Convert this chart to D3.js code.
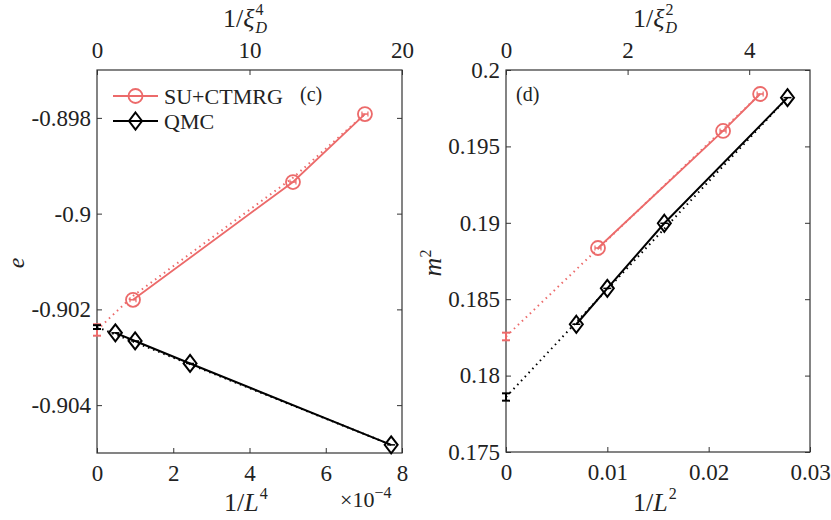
<!DOCTYPE html>
<html>
<head>
<meta charset="utf-8">
<script src="https://cdn.jsdelivr.net/npm/d3@7"></script>
<style>
  body { margin: 0; background: #fff; }
  svg, svg text { font-family: "Liberation Serif", "Times New Roman", serif; }
  text { fill: #222; }
</style>
</head>
<body>
<svg width="831" height="520"></svg>
<script>
// ---- panel (c): energy ----
const suXiInv4 = [2.36, 12.85, 17.57];          // 1/xi_D^4 (top axis)
const suE = [-0.9018, -0.89934, -0.89792];
const suE0 = -0.90243, suE0Err = 0.00012;
const suFitX4 = [0, 2.36, 12.85, 17.57];
const suFitE = [-0.90243, -0.90172, -0.89925, -0.89792];

const qmcInvL4 = [0.482, 1.0, 2.441, 7.716];    // 1/L^4 in units of 1e-4
const qmcE = [-0.90249, -0.90266, -0.90313, -0.90483];
const qmcE0 = -0.90237, qmcE0Err = 0.00004;
const qmcFitX4 = [0, 7.716];
const qmcFitE = [-0.90237, -0.90483];

// ---- panel (d): staggered magnetisation ----
const suXiInv2 = [1.513, 3.57, 4.18];
const suM2 = [0.18835, 0.19601, 0.19843];
const suM0 = 0.18256, suM0Err = 0.00025;
const suFitX2 = [0, 4.18];
const suFitM = [0.18256, 0.19843];

const qmcInvL2 = [0.00694, 0.01, 0.015625, 0.02778];
const qmcM2 = [0.18336, 0.18571, 0.18997, 0.19819];
const qmcM0 = 0.1786, qmcM0Err = 0.00024;
const qmcFitX2 = [0, 0.02778];
const qmcFitM = [0.1786, 0.19819];

const cTop = [0, 10, 20], cBottom = [0, 2, 4, 6, 8], cLeft = [-0.904, -0.902, -0.9, -0.898];
const dTop = [0, 2, 4], dBottom = [0, 0.01, 0.02, 0.03], dLeft = [0.175, 0.18, 0.185, 0.19, 0.195, 0.2];

const red = "#ec6a6a", black = "#000";
const svg = d3.select("svg");
const fs = 23;
const serif = '"Liberation Serif", serif';

function diamond(g, x, y, color) {
  g.append("path").attr("d", `M${x},${y-8.5}L${x+6.5},${y}L${x},${y+8.5}L${x-6.5},${y}Z`)
    .attr("fill", "none").attr("stroke", color).attr("stroke-width", 2);
}
function circle(g, x, y, color) {
  g.append("circle").attr("cx", x).attr("cy", y).attr("r", 7)
    .attr("fill", "none").attr("stroke", color).attr("stroke-width", 1.8);
}
function errBar(g, x, y1, y2, color, w) {
  g.append("line").attr("x1", x).attr("x2", x).attr("y1", y1).attr("y2", y2).attr("stroke", color).attr("stroke-width", w);
  [y1, y2].forEach(yy => g.append("line").attr("x1", x - 4).attr("x2", x + 4).attr("y1", yy).attr("y2", yy).attr("stroke", color).attr("stroke-width", w));
}

function panel(o) {
  const g = svg.append("g");
  const x = d3.scaleLinear().domain(o.xDom).range([o.left, o.right]);
  const xt = d3.scaleLinear().domain(o.xtDom).range([o.left, o.right]);
  const y = d3.scaleLinear().domain(o.yDom).range([o.bottom, o.top]);

  g.append("rect").attr("x", o.left).attr("y", o.top).attr("width", o.right - o.left).attr("height", o.bottom - o.top)
    .attr("fill", "none").attr("stroke", "#333").attr("stroke-width", 1.2);

  const styleAxis = sel => {
    sel.attr("font-family", serif).attr("font-size", fs);
    sel.select(".domain").remove();
    sel.selectAll(".tick line").attr("stroke", "#333");
    sel.selectAll(".tick text").attr("fill", "#222");
  };
  const fmt = d => String(d);
  g.append("g").attr("transform", `translate(0,${o.bottom})`)
    .call(d3.axisBottom(x).tickValues(o.bottomTicks).tickSizeInner(-5).tickPadding(12).tickFormat(fmt))
    .call(styleAxis);
  g.append("g").attr("transform", `translate(0,${o.top})`)
    .call(d3.axisTop(xt).tickValues(o.topTicks).tickSizeInner(-5).tickPadding(12).tickFormat(fmt))
    .call(styleAxis);
  g.append("g").attr("transform", `translate(${o.left},0)`)
    .call(d3.axisLeft(y).tickValues(o.leftTicks).tickSizeInner(-5).tickPadding(6).tickFormat(fmt))
    .call(styleAxis);
  g.append("g").attr("transform", `translate(${o.right},0)`)
    .call(d3.axisRight(y).tickValues(o.leftTicks).tickSizeInner(-5).tickFormat(""))
    .call(styleAxis);

  const line = d3.line();
  // fits (dotted)
  g.append("path").attr("d", line(o.suFitX.map((v, i) => [xt(v), y(o.suFitY[i])])))
    .attr("fill", "none").attr("stroke", red).attr("stroke-width", 2).attr("stroke-dasharray", "1.5,4");
  g.append("path").attr("d", line(o.qmcFitX.map((v, i) => [x(v), y(o.qmcFitY[i])])))
    .attr("fill", "none").attr("stroke", black).attr("stroke-width", 2).attr("stroke-dasharray", "1.5,4");
  // data lines
  g.append("path").attr("d", line(o.suX.map((v, i) => [xt(v), y(o.suY[i])])))
    .attr("fill", "none").attr("stroke", red).attr("stroke-width", 1.8);
  g.append("path").attr("d", line(o.qmcX.map((v, i) => [x(v), y(o.qmcY[i])])))
    .attr("fill", "none").attr("stroke", black).attr("stroke-width", 2);
  // extrapolated values at zero
  errBar(g, x(0), y(o.su0 + o.su0Err), y(o.su0 - o.su0Err), red, 2);
  errBar(g, x(0), y(o.qmc0 + o.qmc0Err), y(o.qmc0 - o.qmc0Err), black, 2);
  // markers
  o.suX.forEach((v, i) => {
    const px = xt(v), py = y(o.suY[i]);
    circle(g, px, py, red);
    g.append("line").attr("x1", px - 3).attr("x2", px + 3).attr("y1", py).attr("y2", py).attr("stroke", red).attr("stroke-width", 1.5);
    [-3, 3].forEach(dx => g.append("line").attr("x1", px + dx).attr("x2", px + dx).attr("y1", py - 2.5).attr("y2", py + 2.5).attr("stroke", red).attr("stroke-width", 1.2));
  });
  o.qmcX.forEach((v, i) => {
    const px = x(v), py = y(o.qmcY[i]);
    diamond(g, px, py, black);
    g.append("line").attr("x1", px - 4).attr("x2", px + 4).attr("y1", py).attr("y2", py).attr("stroke", black).attr("stroke-width", 1.5);
  });
  return g;
}

panel({
  left: 97, right: 402, top: 70, bottom: 453,
  xDom: [0, 8], xtDom: [0, 20], yDom: [-0.905, -0.897],
  bottomTicks: cBottom, topTicks: cTop, leftTicks: cLeft,
  suX: suXiInv4, suY: suE, suFitX: suFitX4, suFitY: suFitE, su0: suE0, su0Err: suE0Err,
  qmcX: qmcInvL4, qmcY: qmcE, qmcFitX: qmcFitX4, qmcFitY: qmcFitE, qmc0: qmcE0, qmc0Err: qmcE0Err
});

panel({
  left: 506, right: 810, top: 70, bottom: 452,
  xDom: [0, 0.03], xtDom: [0, 5], yDom: [0.175, 0.2],
  bottomTicks: dBottom, topTicks: dTop, leftTicks: dLeft,
  suX: suXiInv2, suY: suM2, suFitX: suFitX2, suFitY: suFitM, su0: suM0, su0Err: suM0Err,
  qmcX: qmcInvL2, qmcY: qmcM2, qmcFitX: qmcFitX2, qmcFitY: qmcFitM, qmc0: qmcM0, qmc0Err: qmcM0Err
});

function txt(x, y, size) {
  return svg.append("text").attr("x", x).attr("y", y).attr("font-family", serif).attr("font-size", size);
}

// axis labels
function invLabel(x0, base, sym, pow, sub) {
  const t = txt(x0, base, 26);
  t.append("tspan").text("1/");
  t.append("tspan").style("font-style", "italic").text(sym);
  const w = t.node().getComputedTextLength();
  txt(x0 + w + 1, base - 12, 16).text(pow);
  if (sub) txt(x0 + w + 1, base + 6, 16).style("font-style", "italic").text(sub);
}
invLabel(223, 27, "ξ", "4", "D");
invLabel(633, 27, "ξ", "2", "D");
invLabel(224, 511, "L", "4", null);
invLabel(633, 511, "L", "2", null);

const xm = txt(340, 507, 22);
xm.append("tspan").text("×10");
xm.append("tspan").attr("dy", -9).attr("font-size", 16).text("−4");

svg.append("text").attr("transform", "translate(24,263) rotate(-90)").attr("text-anchor", "middle")
  .attr("font-family", serif).attr("font-size", 24).style("font-style", "italic").text("e");
const mt = svg.append("text").attr("transform", "translate(441,263) rotate(-90)").attr("text-anchor", "middle")
  .attr("font-family", serif).attr("font-size", 26);
mt.append("tspan").style("font-style", "italic").text("m");
mt.append("tspan").attr("dy", -10).attr("font-size", 16).text("2");

txt(300, 101, 20).text("(c)");
txt(516, 101, 20).text("(d)");

// legend
const leg = svg.append("g");
[["SU+CTMRG", red, 96], ["QMC", black, 121]].forEach(([name, col, ly], i) => {
  leg.append("line").attr("x1", 113).attr("x2", 158).attr("y1", ly).attr("y2", ly).attr("stroke", col).attr("stroke-width", i ? 2 : 1.8);
  if (i) diamond(leg, 135.5, ly, col); else circle(leg, 135.5, ly, col);
  leg.append("text").attr("x", 164).attr("y", ly + 7.5).attr("font-family", serif).attr("font-size", 22).text(name);
});
</script>
</body>
</html>
